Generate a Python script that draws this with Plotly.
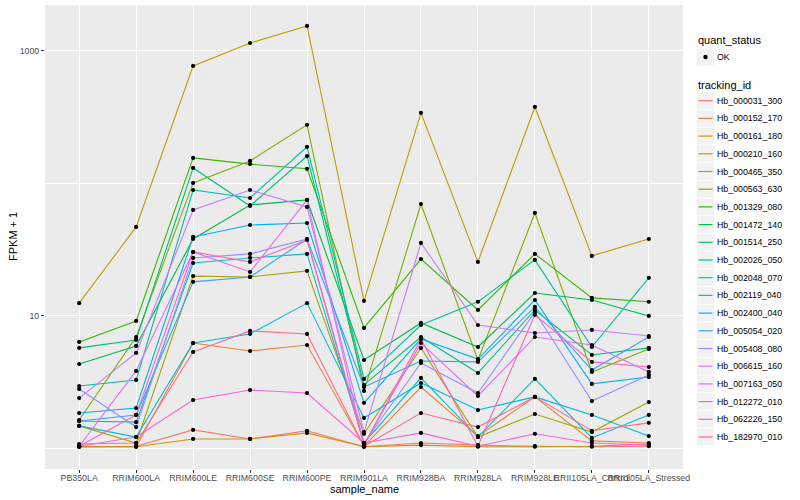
import plotly.graph_objects as go

# ---------------- data ----------------
samples = ["PB350LA", "RRIM600LA", "RRIM600LE", "RRIM600SE", "RRIM600PE",
           "RRIM901LA", "RRIM928BA", "RRIM928LA", "RRIM928LE",
           "RRII105LA_Control", "RRII105LA_Stressed"]

tracking_ids = ["Hb_000031_300", "Hb_000152_170", "Hb_000161_180", "Hb_000210_160",
                "Hb_000465_350", "Hb_000563_630", "Hb_001329_080", "Hb_001472_140",
                "Hb_001514_250", "Hb_002026_050", "Hb_002048_070", "Hb_002119_040",
                "Hb_002400_040", "Hb_005054_020", "Hb_005408_080", "Hb_006615_160",
                "Hb_007163_050", "Hb_012272_010", "Hb_062226_150", "Hb_182970_010"]

colors = ["#F8766D", "#EA8331", "#D89000", "#C09B00", "#A3A500", "#7CAE00", "#39B600",
          "#00BB4E", "#00BF7D", "#00C1A3", "#00BFC4", "#00BAE0", "#00B0F6", "#35A2FF",
          "#9590FF", "#C77CFF", "#E76BF3", "#FA62DB", "#FF62BC", "#FF6C91"]

# FPKM + 1 for each tracking id, in the order of `samples`
hb_000031_300 = [1.03, 1.04, 1.38, 1.18, 1.36, 1.03, 1.10, 1.06, 1.04, 1.03, 1.04]
hb_000152_170 = [1.03, 1.03, 6.25, 5.44, 6.04, 1.04, 2.91, 1.24, 2.45, 1.14, 1.10]
hb_000161_180 = [1.03, 1.03, 1.18, 1.18, 1.31, 1.03, 1.06, 1.03, 1.03, 1.04, 1.08]
hb_000210_160 = [12.5, 47.0, 771, 1149, 1545, 13.0, 341, 25.6, 378, 28.4, 38.1]
hb_000465_350 = [1.48, 1.10, 20.0, 19.7, 21.9, 1.29, 5.74, 1.22, 1.82, 1.33, 2.24]
hb_000563_630 = [1.64, 6.94, 101, 148, 277, 2.72, 70.0, 4.65, 59.9, 3.78, 5.64]
hb_001329_080 = [6.37, 9.17, 156, 140, 129, 8.12, 26.9, 11.1, 29.4, 13.7, 12.8]
hb_001472_140 = [4.34, 5.94, 38.1, 68.8, 75.1, 4.65, 8.86, 5.83, 14.9, 13.2, 10.0]
hb_001514_250 = [5.74, 6.59, 131, 67.6, 161, 3.02, 6.94, 3.71, 11.1, 5.08, 5.74]
hb_002026_050 = [2.96, 3.29, 89.3, 77.7, 189, 3.35, 8.55, 12.8, 26.5, 5.83, 19.4]
hb_002048_070 = [1.61, 1.58, 25.1, 27.4, 29.4, 1.10, 3.41, 1.22, 3.35, 1.20, 1.79]
hb_002119_040 = [1.48, 1.22, 6.25, 7.32, 12.5, 1.70, 3.12, 1.95, 2.45, 1.79, 1.24]
hb_002400_040 = [1.85, 2.02, 39.5, 48.6, 50.3, 2.21, 6.71, 4.73, 13.2, 3.07, 3.46]
hb_005054_020 = [1.61, 1.79, 18.1, 19.7, 38.1, 2.91, 4.57, 4.50, 11.7, 3.91, 6.94]
hb_005408_080 = [2.81, 1.45, 27.4, 29.4, 38.1, 1.10, 4.42, 2.62, 10.7, 2.28, 3.59]
hb_006615_160 = [2.40, 5.26, 63.1, 89.3, 66.5, 1.33, 35.6, 8.55, 7.44, 7.84, 7.06]
hb_007163_050 = [1.04, 3.85, 30.4, 21.5, 75.1, 1.06, 6.25, 2.49, 6.94, 6.04, 3.78]
hb_012272_010 = [1.04, 1.22, 2.32, 2.76, 2.62, 1.10, 1.31, 1.04, 1.29, 1.10, 1.06]
hb_062226_150 = [1.04, 1.79, 30.4, 25.6, 37.5, 1.06, 6.71, 1.04, 10.2, 4.50, 4.12]
hb_182970_010 = [1.08, 1.10, 5.35, 7.71, 7.32, 1.04, 1.85, 1.45, 2.45, 1.36, 1.56]

series = [hb_000031_300, hb_000152_170, hb_000161_180, hb_000210_160, hb_000465_350,
          hb_000563_630, hb_001329_080, hb_001472_140, hb_001514_250, hb_002026_050,
          hb_002048_070, hb_002119_040, hb_002400_040, hb_005054_020, hb_005408_080,
          hb_006615_160, hb_007163_050, hb_012272_010, hb_062226_150, hb_182970_010]

quant_status = ["OK"]

# ---------------- figure ----------------
FONT = "Liberation Sans, Arial, sans-serif"
fig = go.Figure()

for name, col, vals in zip(tracking_ids, colors, series):
    fig.add_trace(go.Scatter(x=samples, y=vals, mode="lines", name=name,
                             line=dict(color=col, width=1.1), showlegend=False))
for name, vals in zip(tracking_ids, series):
    fig.add_trace(go.Scatter(x=samples, y=vals, mode="markers", name=name,
                             marker=dict(color="black", size=4.2), showlegend=False))

L, R, T, B = 45, 683, 5, 469
W, H = 800, 500


def px_x(px):
    return (px - L) / (R - L)


def px_y(py):
    return (B - py) / (B - T)


shapes = []
annotations = []

# legend: quant_status
annotations.append(dict(x=px_x(696), y=px_y(40.5), xref="paper", yref="paper",
                        text="quant_status", showarrow=False, xanchor="left",
                        yanchor="middle", font=dict(size=11, color="black", family=FONT)))
shapes.append(dict(type="rect", xref="paper", yref="paper",
                   x0=px_x(697), x1=px_x(714), y0=px_y(48.5), y1=px_y(65.5),
                   fillcolor="#F2F2F2", line=dict(width=0), layer="above"))
shapes.append(dict(type="circle", xref="paper", yref="paper",
                   x0=px_x(703.3), x1=px_x(707.7), y0=px_y(54.8), y1=px_y(59.2),
                   fillcolor="black", line=dict(width=0), layer="above"))
annotations.append(dict(x=px_x(715), y=px_y(57), xref="paper", yref="paper",
                        text=quant_status[0], showarrow=False, xanchor="left",
                        yanchor="middle", font=dict(size=8.8, color="black", family=FONT)))

# legend: tracking_id
annotations.append(dict(x=px_x(696), y=px_y(84.5), xref="paper", yref="paper",
                        text="tracking_id", showarrow=False, xanchor="left",
                        yanchor="middle", font=dict(size=11, color="black", family=FONT)))
for i, (name, col) in enumerate(zip(tracking_ids, colors)):
    cy = 100.7 + 17.7 * i
    shapes.append(dict(type="rect", xref="paper", yref="paper",
                       x0=px_x(697), x1=px_x(714), y0=px_y(cy - 8.4), y1=px_y(cy + 8.4),
                       fillcolor="#F2F2F2", line=dict(width=0), layer="above"))
    shapes.append(dict(type="line", xref="paper", yref="paper",
                       x0=px_x(698.5), x1=px_x(712.5), y0=px_y(cy), y1=px_y(cy),
                       line=dict(color=col, width=1.2), layer="above"))
    annotations.append(dict(x=px_x(715), y=px_y(cy), xref="paper", yref="paper",
                            text=name, showarrow=False, xanchor="left",
                            yanchor="middle", font=dict(size=8.8, color="black", family=FONT)))

# axis titles
annotations.append(dict(x=px_x(364), y=px_y(489), xref="paper", yref="paper",
                        text="sample_name", showarrow=False, xanchor="center",
                        yanchor="middle", font=dict(size=11, color="black", family=FONT)))
annotations.append(dict(x=px_x(13), y=px_y(237), xref="paper", yref="paper",
                        text="FPKM + 1", showarrow=False, xanchor="center", textangle=-90,
                        yanchor="middle", font=dict(size=11, color="black", family=FONT)))

fig.update_layout(
    width=W, height=H,
    margin=dict(l=L, r=W - R, t=T, b=H - B, pad=0),
    plot_bgcolor="#EBEBEB", paper_bgcolor="white",
    font=dict(family=FONT),
    showlegend=False,
    shapes=shapes, annotations=annotations,
    xaxis=dict(type="category", categoryorder="array", categoryarray=samples,
               range=[-0.6, 10.6], showgrid=True, gridcolor="white", gridwidth=1.1,
               ticks="outside", ticklen=3, tickwidth=1, tickcolor="#333333",
               tickfont=dict(size=8.8, color="#4D4D4D", family=FONT), tickangle=0,
               ticklabelstandoff=-3,
               zeroline=False, showline=False, automargin=False),
    yaxis=dict(type="log", range=[-0.155, 3.347], tickvals=[10, 1000], ticktext=["10", "1000"],
               showgrid=True, gridcolor="white", gridwidth=1.1,
               minor=dict(tickvals=[1, 100], showgrid=True, gridcolor="white", gridwidth=0.6),
               ticks="outside", ticklen=3, tickwidth=1, tickcolor="#333333",
               tickfont=dict(size=8.8, color="#4D4D4D", family=FONT),
               zeroline=False, showline=False, automargin=False),
)

fig.write_html("out.html", config={"displayModeBar": False},
               post_script="document.body.style.margin='0';document.body.style.overflow='hidden';")
